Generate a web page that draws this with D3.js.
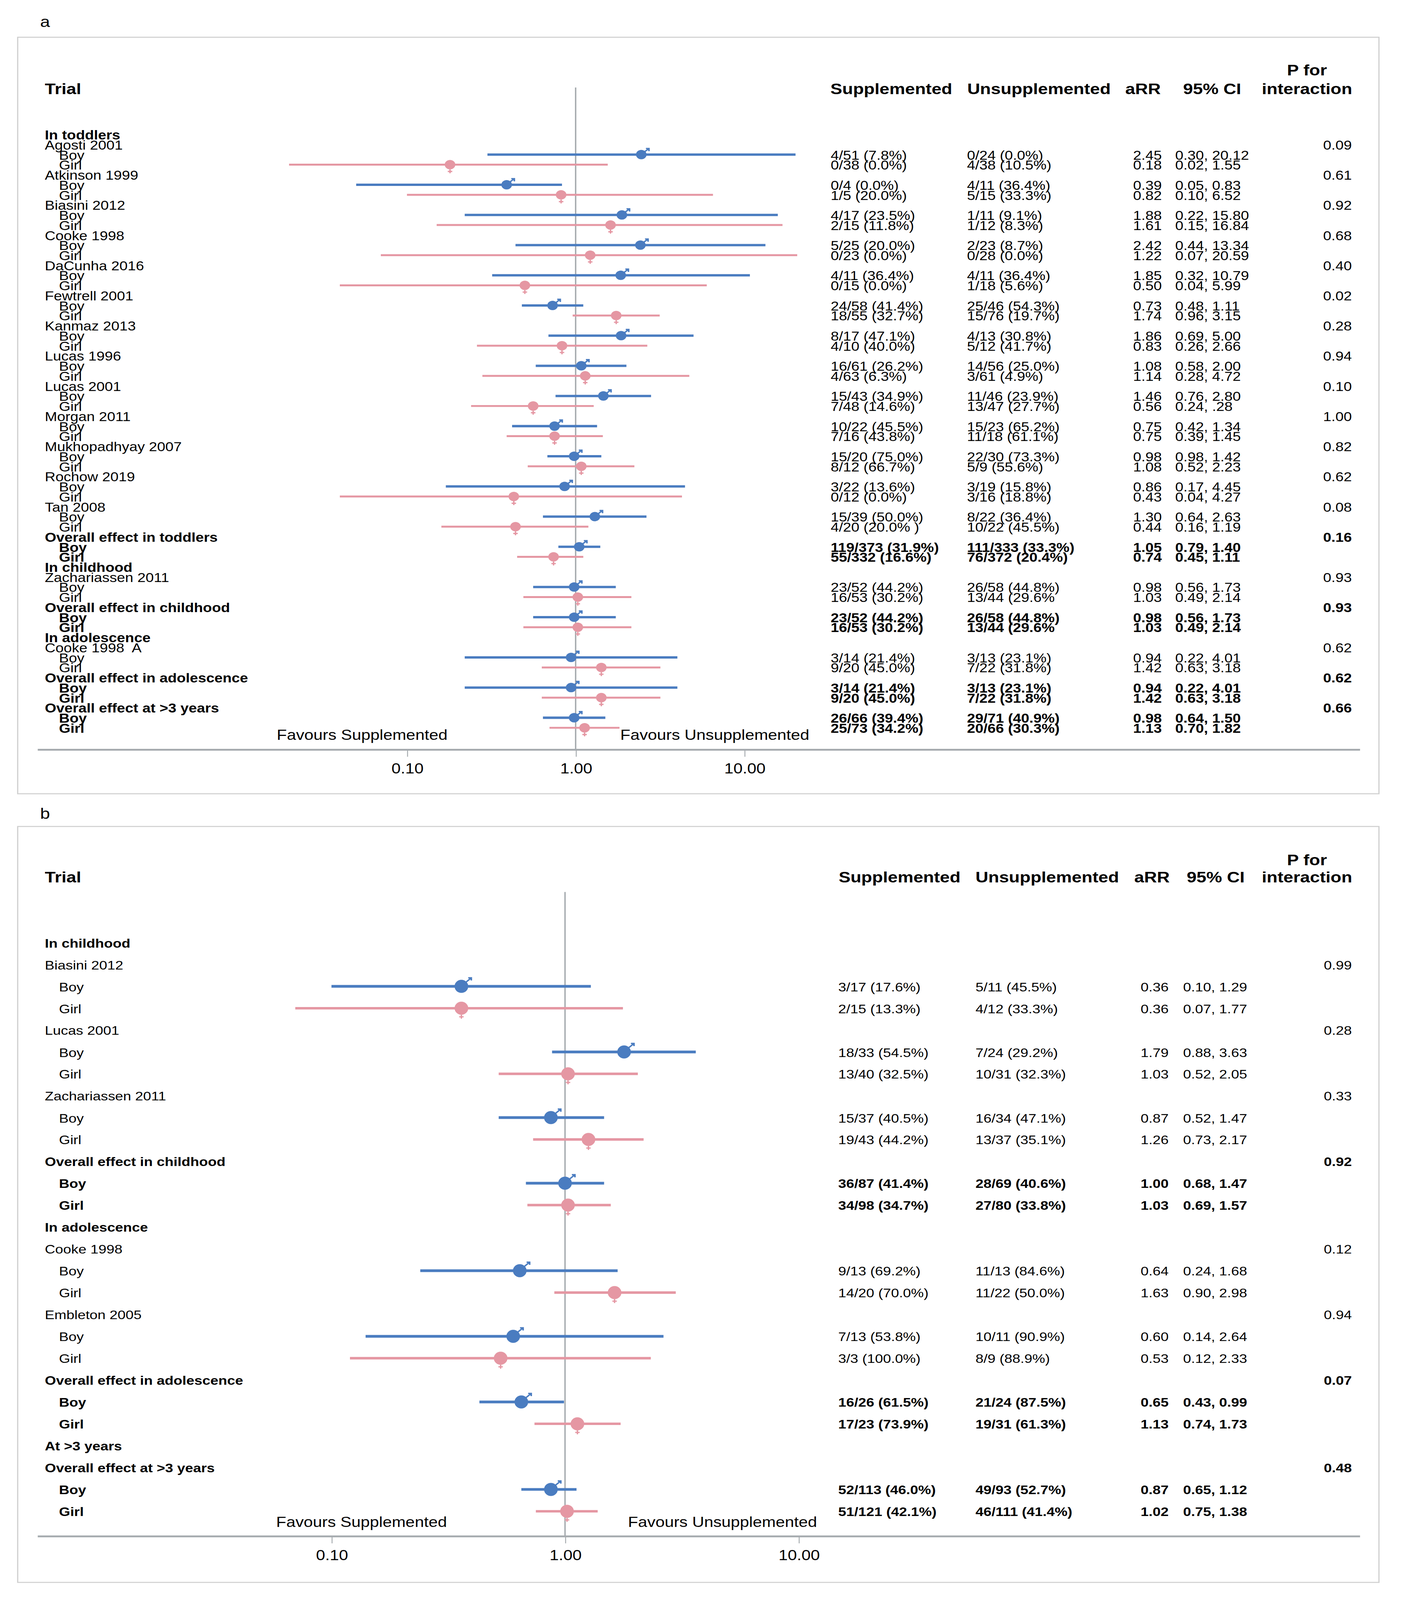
<!DOCTYPE html>
<html>
<head>
<meta charset="utf-8">
<script src="https://cdn.jsdelivr.net/npm/d3@7"></script>
<style>
  html, body { margin: 0; padding: 0; background: #fff; overflow: hidden; }
  svg { display: block; width: 100vw; height: 100vh; }
  text { white-space: pre; }
</style>
</head>
<body>
<script>
// forest plots, panel a (toddlers .. >3 years) and panel b

var tickVals = [0.1, 1, 10];
var tickLabels = ['0.10', '1.00', '10.00'];
var headers = ['Supplemented', 'Unsupplemented', 'aRR', '95% CI'];

// ---- panel a ----
var aRows = [
    'In toddlers',
    'Agosti 2001', 'Boy', 'Girl',
    'Atkinson 1999', 'Boy', 'Girl',
    'Biasini 2012', 'Boy', 'Girl',
    'Cooke 1998', 'Boy', 'Girl',
    'DaCunha 2016', 'Boy', 'Girl',
    'Fewtrell 2001', 'Boy', 'Girl',
    'Kanmaz 2013', 'Boy', 'Girl',
    'Lucas 1996', 'Boy', 'Girl',
    'Lucas 2001', 'Boy', 'Girl',
    'Morgan 2011', 'Boy', 'Girl',
    'Mukhopadhyay 2007', 'Boy', 'Girl',
    'Rochow 2019', 'Boy', 'Girl',
    'Tan 2008', 'Boy', 'Girl',
    'Overall effect in toddlers', 'Boy', 'Girl',
    'In childhood',
    'Zachariassen 2011', 'Boy', 'Girl',
    'Overall effect in childhood', 'Boy', 'Girl',
    'In adolescence',
    'Cooke 1998  A', 'Boy', 'Girl',
    'Overall effect in adolescence', 'Boy', 'Girl',
    'Overall effect at >3 years', 'Boy', 'Girl'
];
var aSupp = [
    '4/51 (7.8%)', '0/38 (0.0%)', '0/4 (0.0%)', '1/5 (20.0%)', '4/17 (23.5%)', '2/15 (11.8%)',
    '5/25 (20.0%)', '0/23 (0.0%)', '4/11 (36.4%)', '0/15 (0.0%)', '24/58 (41.4%)', '18/55 (32.7%)',
    '8/17 (47.1%)', '4/10 (40.0%)', '16/61 (26.2%)', '4/63 (6.3%)', '15/43 (34.9%)', '7/48 (14.6%)',
    '10/22 (45.5%)', '7/16 (43.8%)', '15/20 (75.0%)', '8/12 (66.7%)', '3/22 (13.6%)', '0/12 (0.0%)',
    '15/39 (50.0%)', '4/20 (20.0% )', '119/373 (31.9%)', '55/332 (16.6%)',
    '23/52 (44.2%)', '16/53 (30.2%)', '23/52 (44.2%)', '16/53 (30.2%)',
    '3/14 (21.4%)', '9/20 (45.0%)', '3/14 (21.4%)', '9/20 (45.0%)', '26/66 (39.4%)', '25/73 (34.2%)'
];
var aUnsupp = [
    '0/24 (0.0%)', '4/38 (10.5%)', '4/11 (36.4%)', '5/15 (33.3%)', '1/11 (9.1%)', '1/12 (8.3%)',
    '2/23 (8.7%)', '0/28 (0.0%)', '4/11 (36.4%)', '1/18 (5.6%)', '25/46 (54.3%)', '15/76 (19.7%)',
    '4/13 (30.8%)', '5/12 (41.7%)', '14/56 (25.0%)', '3/61 (4.9%)', '11/46 (23.9%)', '13/47 (27.7%)',
    '15/23 (65.2%)', '11/18 (61.1%)', '22/30 (73.3%)', '5/9 (55.6%)', '3/19 (15.8%)', '3/16 (18.8%)',
    '8/22 (36.4%)', '10/22 (45.5%)', '111/333 (33.3%)', '76/372 (20.4%)',
    '26/58 (44.8%)', '13/44 (29.6%', '26/58 (44.8%)', '13/44 (29.6%',
    '3/13 (23.1%)', '7/22 (31.8%)', '3/13 (23.1%)', '7/22 (31.8%)', '29/71 (40.9%)', '20/66 (30.3%)'
];
var aRR = [2.45, 0.18, 0.39, 0.82, 1.88, 1.61, 2.42, 1.22, 1.85, 0.50, 0.73, 1.74, 1.86, 0.83, 1.08, 1.14,
    1.46, 0.56, 0.75, 0.75, 0.98, 1.08, 0.86, 0.43, 1.30, 0.44, 1.05, 0.74, 0.98, 1.03, 0.98, 1.03,
    0.94, 1.42, 0.94, 1.42, 0.98, 1.13];
var aLo = [0.30, 0.02, 0.05, 0.10, 0.22, 0.15, 0.44, 0.07, 0.32, 0.04, 0.48, 0.96, 0.69, 0.26, 0.58, 0.28,
    0.76, 0.24, 0.42, 0.39, 0.68, 0.52, 0.17, 0.04, 0.64, 0.16, 0.79, 0.45, 0.56, 0.49, 0.56, 0.49,
    0.22, 0.63, 0.22, 0.63, 0.64, 0.70];
var aHi = [20.12, 1.55, 0.83, 6.52, 15.80, 16.84, 13.34, 20.59, 10.79, 5.99, 1.11, 3.15, 5.00, 2.66, 2.00, 4.72,
    2.80, 1.28, 1.34, 1.45, 1.42, 2.23, 4.45, 4.27, 2.63, 1.19, 1.40, 1.11, 1.73, 2.14, 1.73, 2.14,
    4.01, 3.18, 4.01, 3.18, 1.50, 1.82];
// CI text as printed (two entries differ from the plotted bars)
var aCI = ['0.30, 20.12', '0.02, 1.55', '0.05, 0.83', '0.10, 6.52', '0.22, 15.80', '0.15, 16.84',
    '0.44, 13.34', '0.07, 20.59', '0.32, 10.79', '0.04, 5.99', '0.48, 1.11', '0.96, 3.15',
    '0.69, 5.00', '0.26, 2.66', '0.58, 2.00', '0.28, 4.72', '0.76, 2.80', '0.24, .28',
    '0.42, 1.34', '0.39, 1.45', '0.98, 1.42', '0.52, 2.23', '0.17, 4.45', '0.04, 4.27',
    '0.64, 2.63', '0.16, 1.19', '0.79, 1.40', '0.45, 1.11', '0.56, 1.73', '0.49, 2.14',
    '0.56, 1.73', '0.49, 2.14', '0.22, 4.01', '0.63, 3.18', '0.22, 4.01', '0.63, 3.18',
    '0.64, 1.50', '0.70, 1.82'];
var aP = ['0.09', '0.61', '0.92', '0.68', '0.40', '0.02', '0.28', '0.94', '0.10', '1.00', '0.82', '0.62',
    '0.08', '0.16', '0.93', '0.93', '0.62', '0.62', '0.66'];

// ---- panel b ----
var bRows = [
    'In childhood',
    'Biasini 2012', 'Boy', 'Girl',
    'Lucas 2001', 'Boy', 'Girl',
    'Zachariassen 2011', 'Boy', 'Girl',
    'Overall effect in childhood', 'Boy', 'Girl',
    'In adolescence',
    'Cooke 1998', 'Boy', 'Girl',
    'Embleton 2005', 'Boy', 'Girl',
    'Overall effect in adolescence', 'Boy', 'Girl',
    'At >3 years',
    'Overall effect at >3 years', 'Boy', 'Girl'
];
var bSupp = ['3/17 (17.6%)', '2/15 (13.3%)', '18/33 (54.5%)', '13/40 (32.5%)', '15/37 (40.5%)', '19/43 (44.2%)',
    '36/87 (41.4%)', '34/98 (34.7%)', '9/13 (69.2%)', '14/20 (70.0%)', '7/13 (53.8%)', '3/3 (100.0%)',
    '16/26 (61.5%)', '17/23 (73.9%)', '52/113 (46.0%)', '51/121 (42.1%)'];
var bUnsupp = ['5/11 (45.5%)', '4/12 (33.3%)', '7/24 (29.2%)', '10/31 (32.3%)', '16/34 (47.1%)', '13/37 (35.1%)',
    '28/69 (40.6%)', '27/80 (33.8%)', '11/13 (84.6%)', '11/22 (50.0%)', '10/11 (90.9%)', '8/9 (88.9%)',
    '21/24 (87.5%)', '19/31 (61.3%)', '49/93 (52.7%)', '46/111 (41.4%)'];
var bRR = [0.36, 0.36, 1.79, 1.03, 0.87, 1.26, 1.00, 1.03, 0.64, 1.63, 0.60, 0.53, 0.65, 1.13, 0.87, 1.02];
var bLo = [0.10, 0.07, 0.88, 0.52, 0.52, 0.73, 0.68, 0.69, 0.24, 0.90, 0.14, 0.12, 0.43, 0.74, 0.65, 0.75];
var bHi = [1.29, 1.77, 3.63, 2.05, 1.47, 2.17, 1.47, 1.57, 1.68, 2.98, 2.64, 2.33, 0.99, 1.73, 1.12, 1.38];
var bCI = bLo.map(function(d, i) { return d.toFixed(2) + ', ' + bHi[i].toFixed(2) });
var bP = ['0.99', '0.28', '0.33', '0.92', '0.12', '0.94', '0.07', '0.48'];

var W = 1189.4, H = 1564.2;
var FONT = "'Liberation Sans', Arial, Helvetica, sans-serif";
var BLUE = '#4a7cc0', PINK = '#e597a3', GREY = '#a6abaf';

// scale the drawing to whatever the window gives
var svg = d3.select('body').append('svg')
    .attr('viewBox', '0 0 ' + W + ' ' + H)
    .attr('preserveAspectRatio', 'none')
    .style('font-family', FONT);

var panels = [
    {
        tag: 'a', tagY: 21, box: [15, 36.4, 1169, 776],
        rows: aRows, supp: aSupp, unsupp: aUnsupp, rr: aRR, lo: aLo, hi: aHi, ci: aCI, p: aP,
        headY: 86.7, pForY: 68.6, rowY: [132, 712], xr: [345, 631], refTop: 85.5, axisY: 733,
        favY: 718.5, favX: [307, 606],
        cols: [704.2, 819.8, 960.6, 996.3], headCols: [704, 820, 954, 1003],
        fs: 12.5, r: [4.5, 4.6], lw: [2.3, 1.9]
    },
    {
        tag: 'b', tagY: 795, box: [15, 808, 1169, 1547],
        rows: bRows, supp: bSupp, unsupp: bUnsupp, rr: bRR, lo: bLo, hi: bHi, ci: bCI, p: bP,
        headY: 857.5, pForY: 840.5, rowY: [922, 1478], xr: [281, 677], refTop: 872, axisY: 1502,
        favY: 1488, favX: [306.5, 612.5],
        cols: [710.6, 827, 967, 1003], headCols: [711, 827, 961.6, 1006],
        fs: 12.2, r: [5.8, 6.4], lw: [2.6, 2.4]
    }
];

panels.forEach(function(P) {
    var g = svg.append('g');
    var x = d3.scaleLog().domain([0.1, 10]).range(P.xr);
    var y = d3.scalePoint().domain(d3.range(P.rows.length)).range(P.rowY);

    g.append('text').attr('x', 34).attr('y', P.tagY).attr('dy', '0.35em')
        .style('font-size', '15px').text(P.tag);
    g.append('rect')
        .attr('x', P.box[0]).attr('y', P.box[1])
        .attr('width', P.box[2] - P.box[0]).attr('height', P.box[3] - P.box[1])
        .attr('fill', 'none').attr('stroke', '#cfcfcf').attr('stroke-width', 1);

    // headers
    g.append('text').attr('x', 38).attr('y', P.headY).attr('dy', '0.35em')
        .style('font-size', '15px').style('font-weight', 'bold').text('Trial');
    g.selectAll('.head').data(headers).enter().append('text')
        .attr('x', function(d, i) { return P.headCols[i] })
        .attr('y', P.headY).attr('dy', '0.35em')
        .style('font-size', '15px').style('font-weight', 'bold')
        .text(function(d) { return d });
    g.append('text').attr('x', 1108).attr('y', P.pForY).attr('dy', '0.35em')
        .attr('text-anchor', 'middle').style('font-size', '15px').style('font-weight', 'bold').text('P for');
    g.append('text').attr('x', 1108).attr('y', P.headY).attr('dy', '0.35em')
        .attr('text-anchor', 'middle').style('font-size', '15px').style('font-weight', 'bold').text('interaction');

    // work out row kinds
    var rows = [], sub = 0, pi = 0, parentBold = false;
    P.rows.forEach(function(lab, i) {
        var isSub = (lab === 'Boy' || lab === 'Girl');
        var bold;
        if (isSub) {
            bold = parentBold;
            rows.push({ i: i, lab: lab, sub: true, bold: bold, k: sub++ });
        } else {
            bold = /^(In |Overall|At )/.test(lab);
            parentBold = bold;
            var hasP = !bold || /^Overall/.test(lab);
            rows.push({ i: i, lab: lab, sub: false, bold: bold, p: hasP ? P.p[pi++] : null });
        }
    });

    // left labels
    g.selectAll('.lab').data(rows).enter().append('text')
        .attr('x', function(d) { return d.sub ? 50 : 38 })
        .attr('y', function(d) { return y(d.i) }).attr('dy', '0.35em')
        .style('font-size', P.fs + 'px')
        .style('font-weight', function(d) { return d.bold ? 'bold' : 'normal' })
        .text(function(d) { return d.lab });

    // p values
    g.selectAll('.pv').data(rows.filter(function(d) { return d.p })).enter().append('text')
        .attr('x', 1146).attr('text-anchor', 'end')
        .attr('y', function(d) { return y(d.i) }).attr('dy', '0.35em')
        .style('font-size', P.fs + 'px')
        .style('font-weight', function(d) { return /^Overall/.test(d.lab) ? 'bold' : 'normal' })
        .text(function(d) { return d.p });

    var subs = rows.filter(function(d) { return d.sub });

    // numbers columns
    var colText = [
        function(d) { return P.supp[d.k] },
        function(d) { return P.unsupp[d.k] },
        function(d) { return P.rr[d.k].toFixed(2) },
        function(d) { return P.ci[d.k] }
    ];
    colText.forEach(function(fn, c) {
        g.selectAll('.c' + c).data(subs).enter().append('text')
            .attr('x', P.cols[c])
            .attr('y', function(d) { return y(d.i) }).attr('dy', '0.35em')
            .style('font-size', P.fs + 'px')
            .style('font-weight', function(d) { return d.bold ? 'bold' : 'normal' })
            .text(fn);
    });

    // reference line at 1
    g.append('line')
        .attr('x1', x(1)).attr('x2', x(1)).attr('y1', P.refTop).attr('y2', P.axisY)
        .attr('stroke', GREY).attr('stroke-width', 1.2);

    // axis
    g.append('line').attr('x1', 32).attr('x2', 1153).attr('y1', P.axisY).attr('y2', P.axisY)
        .attr('stroke', GREY).attr('stroke-width', 1.8);
    var ax = g.append('g').attr('transform', 'translate(0,' + P.axisY + ')')
        .call(d3.axisBottom(x).tickValues(tickVals)
            .tickFormat(function(d, i) { return tickLabels[i] })
            .tickSize(6.8).tickPadding(6.5));
    ax.select('.domain').remove();
    ax.selectAll('.tick line').attr('stroke', GREY).attr('stroke-width', 0.8);
    ax.selectAll('.tick text').style('font-size', '14px').style('font-family', FONT).attr('fill', '#000');

    g.append('text').attr('x', P.favX[0]).attr('y', P.favY).attr('dy', '0.35em')
        .attr('text-anchor', 'middle').style('font-size', '14px').text('Favours Supplemented');
    g.append('text').attr('x', P.favX[1]).attr('y', P.favY).attr('dy', '0.35em')
        .attr('text-anchor', 'middle').style('font-size', '14px').text('Favours Unsupplemented');

    // CI bars and markers
    var m = g.selectAll('.est').data(subs).enter().append('g')
        .attr('transform', function(d) { return 'translate(0,' + (y(d.i) - 0.5) + ')' });
    m.append('line')
        .attr('x1', function(d) { return x(P.lo[d.k]) })
        .attr('x2', function(d) { return x(P.hi[d.k]) })
        .attr('stroke', function(d) { return d.lab === 'Boy' ? BLUE : PINK })
        .attr('stroke-width', function(d) { return d.lab === 'Boy' ? P.lw[0] : P.lw[1] });
    var mk = m.append('g')
        .attr('transform', function(d) { return 'translate(' + x(P.rr[d.k]) + ',0)' });
    mk.append('ellipse').attr('rx', P.r[0]).attr('ry', P.r[1])
        .attr('fill', function(d) { return d.lab === 'Boy' ? BLUE : PINK });
    var rx = P.r[0], ry = P.r[1];
    mk.filter(function(d) { return d.lab === 'Boy' }).append('path')
        .attr('d', function() {
            var tx = rx * 1.45, ty = -ry * 1.3;
            return 'M' + (rx * 0.5) + ',' + (-ry * 0.5) + 'L' + tx + ',' + ty +
                'M' + (tx - 2.6) + ',' + ty + 'L' + tx + ',' + ty + 'L' + tx + ',' + (ty + 2.6);
        })
        .attr('fill', 'none').attr('stroke', BLUE).attr('stroke-width', 1.3);
    mk.filter(function(d) { return d.lab === 'Girl' }).append('path')
        .attr('d', 'M0,' + ry + 'L0,' + (ry + 3.8) + 'M-1.9,' + (ry + 2) + 'L1.9,' + (ry + 2))
        .attr('fill', 'none').attr('stroke', PINK).attr('stroke-width', 1.2);
});
</script>
</body>
</html>
